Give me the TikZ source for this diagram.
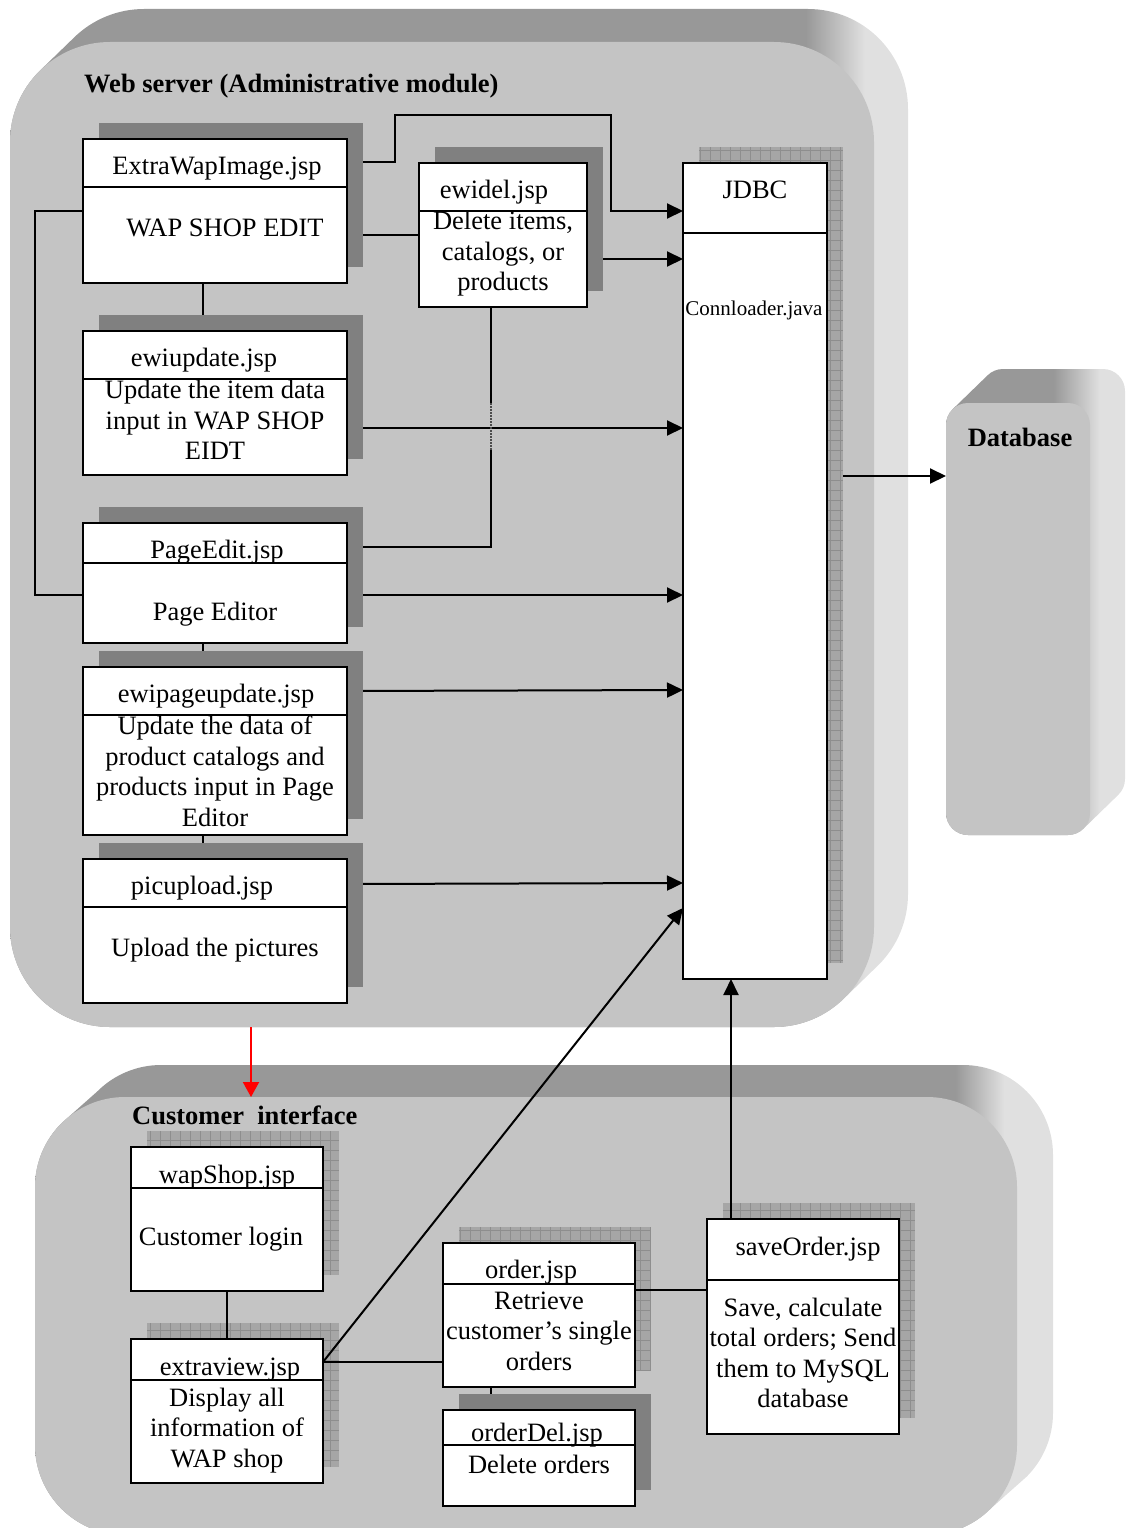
\documentclass[tikz,border=0pt]{standalone}
\usepackage{fontspec}
\setmainfont{Liberation Serif}
\usetikzlibrary{arrows.meta}

\definecolor{facegray}{HTML}{C4C4C4}
\definecolor{topgray}{HTML}{989898}
\definecolor{sidegray}{HTML}{E0E0E0}
\definecolor{shadowdark}{HTML}{808080}
\definecolor{checkfill}{HTML}{A6A6A6}
\definecolor{checkline}{HTML}{8E8E8E}

% depth faces of the rounded slabs: dark top, light right side
\pgfdeclarehorizontalshading{webslab}{100bp}{color(0bp)=(topgray); color(69.3bp)=(topgray); color(72.6bp)=(sidegray); color(100bp)=(sidegray)}
\pgfdeclarehorizontalshading{custslab}{100bp}{color(0bp)=(topgray); color(70.2bp)=(topgray); color(72.6bp)=(sidegray); color(100bp)=(sidegray)}
\pgfdeclarehorizontalshading{dbslab}{100bp}{color(0bp)=(topgray); color(55bp)=(topgray); color(68bp)=(sidegray); color(100bp)=(sidegray)}

\newcommand\bodyfont{\fontsize{26.5pt}{30.5pt}\selectfont}
\newcommand\smallfont{\fontsize{21pt}{24pt}\selectfont}

% #1,#2 front top-left; #3,#4 front bottom-right; #5 corner radius;
% #6 depth to the right; #7 depth upwards; #8 shading of the depth faces
\newcommand\slab[8]{%
  \pgfmathsetmacro\slabk{#5*(1-0.7071)}%
  \shade[shading=#8]
    (#1+\slabk,#2+\slabk) -- (#1+\slabk+#6,#2+\slabk-#7)
    arc[start angle=225,end angle=270,radius=#5]
    -- (#3+#6-#5,#2-#7)
    arc[start angle=270,end angle=360,radius=#5]
    -- (#3+#6,#4-#7-#5)
    arc[start angle=0,end angle=45,radius=#5]
    -- (#3-\slabk,#4-\slabk)
    arc[start angle=45,end angle=90,radius=#5]
    -- (#1+#5,#4)
    arc[start angle=90,end angle=180,radius=#5]
    -- (#1,#2+#5)
    arc[start angle=180,end angle=225,radius=#5]
    -- cycle;
  \fill[facegray,rounded corners=#5pt] (#1,#2) rectangle (#3,#4);
}

\newcommand\solidshadow[1]{%
  \fill[shadowdark] ([shift={(16,-16)}]#1.south west) rectangle ([shift={(16,-16)}]#1.north east);}
\newcommand\checkshadow[1]{%
  \fill[checkfill] ([shift={(16,-16)}]#1.south west) rectangle ([shift={(16,-16)}]#1.north east);
  \draw[checkline,line width=0.7pt] ([shift={(16,-16)}]#1.south west) grid[step=10pt] ([shift={(16,-16)}]#1.north east);}
\newcommand\divider[2]{%
  \draw[line width=2.2pt] ([yshift=-#2pt]#1.north west) -- ([yshift=-#2pt]#1.north east);}

\pgfdeclarelayer{slabs}
\pgfdeclarelayer{underlinks}
\pgfdeclarelayer{checks}
\pgfdeclarelayer{links}
\pgfdeclarelayer{solids}
\pgfsetlayers{slabs,underlinks,checks,links,solids,main}

\tikzset{
  jspbox/.style={draw, line width=2.2pt, fill=white, inner sep=0pt, outer sep=0pt, anchor=north west},
  face/.style={inner sep=0pt, outer sep=0pt, anchor=north west},
  txt/.style={font=\bodyfont, align=center, inner sep=0pt,
    execute at begin node=\strut, execute at end node=\strut},
  smalltxt/.style={font=\smallfont, align=center, inner sep=0pt,
    execute at begin node=\strut, execute at end node=\strut},
  headtxt/.style={font=\bodyfont\bfseries, inner sep=0pt,
    execute at begin node=\strut, execute at end node=\strut},
  conn/.style={line width=2pt, black},
  arr/.style={-{Triangle[length=16pt,width=15pt]}},
  dotseg/.style={line width=1.2pt, black!70, dash pattern=on 1.5pt off 1.5pt},
}

\begin{document}
\begin{tikzpicture}[x=1pt,y=-1pt]
\useasboundingbox (0,0) rectangle (1126,1528);

% containers
\begin{pgfonlayer}{slabs}
  \begin{scope}
    \clip (0,0) rectangle (1126,1528);
    \slab{10}{42}{874}{1027}{100}{34}{33}{webslab}
    \slab{35}{1097}{1017}{1535}{90}{36}{32}{custslab}
    \slab{946}{403}{1090}{835}{22}{35}{34}{dbslab}
  \end{scope}
\end{pgfonlayer}
\node[face, minimum width=864pt, minimum height=985pt] (web) at (10,42) {};
\node[face, minimum width=982pt, minimum height=431pt] (cust) at (35,1097) {};
\node[face, minimum width=144pt, minimum height=432pt] (db) at (946,403) {};

\node[headtxt, anchor=west] (webtitle) at (84,86) {Web server (Administrative module)};
\node[headtxt, anchor=west] (custtitle) at (132,1118) {Customer\ \ interface};
\node[headtxt] (dbtitle) at (1020,440) {Database};

% administrative pages
\node[jspbox, minimum width=264pt, minimum height=144pt] (ewi) at (83,139) {};
\node[jspbox, minimum width=168pt, minimum height=144pt] (ewidel) at (419,163) {};
\node[jspbox, minimum width=264pt, minimum height=144pt] (ewiu) at (83,331) {};
\node[jspbox, minimum width=264pt, minimum height=120pt] (pe) at (83,523) {};
\node[jspbox, minimum width=264pt, minimum height=168pt] (ewip) at (83,667) {};
\node[jspbox, minimum width=264pt, minimum height=144pt] (pic) at (83,859) {};
\node[jspbox, minimum width=144pt, minimum height=816pt] (jdbc) at (683,163) {};

% customer pages
\node[jspbox, minimum width=192pt, minimum height=144pt] (wap) at (131,1147) {};
\node[jspbox, minimum width=192pt, minimum height=144pt] (xv) at (131,1339) {};
\node[jspbox, minimum width=192pt, minimum height=144pt] (ord) at (443,1243) {};
\node[jspbox, minimum width=192pt, minimum height=96pt] (odel) at (443,1410) {};
\node[jspbox, minimum width=192pt, minimum height=215pt] (save) at (707,1219) {};

\divider{ewi}{48}
\divider{ewidel}{48}
\divider{ewiu}{48}
\divider{pe}{40}
\divider{ewip}{48}
\divider{pic}{48}
\divider{jdbc}{70}
\divider{wap}{41}
\divider{xv}{41}
\divider{ord}{41}
\divider{odel}{35}
\divider{save}{61}

\begin{pgfonlayer}{solids}
  \solidshadow{ewi}
  \solidshadow{ewidel}
  \solidshadow{ewiu}
  \solidshadow{pe}
  \solidshadow{ewip}
  \solidshadow{pic}
  \solidshadow{odel}
\end{pgfonlayer}
\begin{pgfonlayer}{checks}
  \checkshadow{jdbc}
  \checkshadow{wap}
  \checkshadow{xv}
  \checkshadow{ord}
  \checkshadow{save}
\end{pgfonlayer}

% texts
\node[txt] (t1) at (217,168) {ExtraWapImage.jsp};
\node[txt] (b1) at (225,230) {WAP SHOP EDIT};
\node[txt] (t2) at (494,192) {ewidel.jsp};
\node[txt] (b2) at (503,255.5) {Delete items,\\catalogs, or\\products};
\node[txt] (t3) at (204,360) {ewiupdate.jsp};
\node[txt] (b3) at (215,424.5) {Update the item data\\input in WAP SHOP\\EIDT};
\node[txt] (t4) at (217,552) {PageEdit.jsp};
\node[txt] (b4) at (215,614) {Page Editor};
\node[txt] (t5) at (216,696) {ewipageupdate.jsp};
\node[txt] (b5) at (215,775.5) {Update the data of\\product catalogs and\\products input in Page\\Editor};
\node[txt] (t6) at (202,888) {picupload.jsp};
\node[txt] (b6) at (215,950) {Upload the pictures};
\node[txt] (t7) at (755,192.5) {JDBC};
\node[smalltxt] (b7) at (754,311) {Connloader.java};
\node[txt] (t8) at (227,1177) {wapShop.jsp};
\node[txt] (b8) at (221,1239) {Customer login};
\node[txt] (t9) at (230,1369) {extraview.jsp};
\node[txt] (b9) at (227,1432) {Display all\\information of\\WAP shop};
\node[txt] (t10) at (531,1272) {order.jsp};
\node[txt] (b10) at (539,1335.5) {Retrieve\\customer’s single\\orders};
\node[txt] (t11) at (537,1435) {orderDel.jsp};
\node[txt] (b11) at (539,1467) {Delete orders};
\node[txt] (t12) at (808,1249) {saveOrder.jsp};
\node[txt] (b12) at (803,1357.5) {Save, calculate\\total orders; Send\\them to MySQL\\database};

% link from JDBC to the database runs beneath the JDBC shadow
\begin{pgfonlayer}{underlinks}
  \draw[conn,arr] (jdbc.east |- 0,476) -- (db.west |- 0,476);
\end{pgfonlayer}

% connectors
\begin{pgfonlayer}{links}
  \draw[conn,arr] (ewi.east |- 0,162) -| (395,115) -| (611,211) -- (jdbc.west |- 0,211);
  \draw[conn] (ewi.east |- 0,235) -- (ewidel.west |- 0,235);
  \draw[conn,arr] (ewidel.east |- 0,259) -- (jdbc.west |- 0,259);
  \draw[conn] (ewi.west |- 0,211) -| (35,595) -- (pe.west |- 0,595);
  \draw[conn] (ewi.south -| 203,0) -- (ewiu.north -| 203,0);
  \draw[conn,arr] (ewiu.east |- 0,428) -- (jdbc.west |- 0,428);
  \draw[conn] (ewidel.south -| 491,0) -- (491,403);
  \draw[dotseg] (491,403) -- (491,450);
  \draw[conn] (491,450) |- (pe.east |- 0,547);
  \draw[conn,arr] (pe.east |- 0,595) -- (jdbc.west |- 0,595);
  \draw[conn] (pe.south -| 203,0) -- (ewip.north -| 203,0);
  \draw[conn,arr] (ewip.east |- 0,691) -- (jdbc.west |- 0,690);
  \draw[conn] (ewip.south -| 203,0) -- (pic.north -| 203,0);
  \draw[conn,arr] (pic.east |- 0,884) -- (jdbc.west |- 0,883);
  \draw[red, line width=2pt, -{Triangle[length=15pt,width=16pt]}] (web.south -| 251,0) -- (cust.north -| 251,0);
  \draw[conn] (wap.south -| 227,0) -- (xv.north -| 227,0);
  \draw[conn] (xv.east |- 0,1362) -- (ord.west |- 0,1362);
  \draw[conn,arr] (xv.east |- 0,1362) -- (jdbc.west |- 0,908);
  \draw[conn] (ord.east |- 0,1290) -- (save.west |- 0,1290);
  \draw[conn,arr] (save.north -| 731,0) -- (jdbc.south -| 731,0);
  \draw[conn] (ord.south -| 491,0) -- (odel.north -| 491,0);
\end{pgfonlayer}
\end{tikzpicture}
\end{document}
